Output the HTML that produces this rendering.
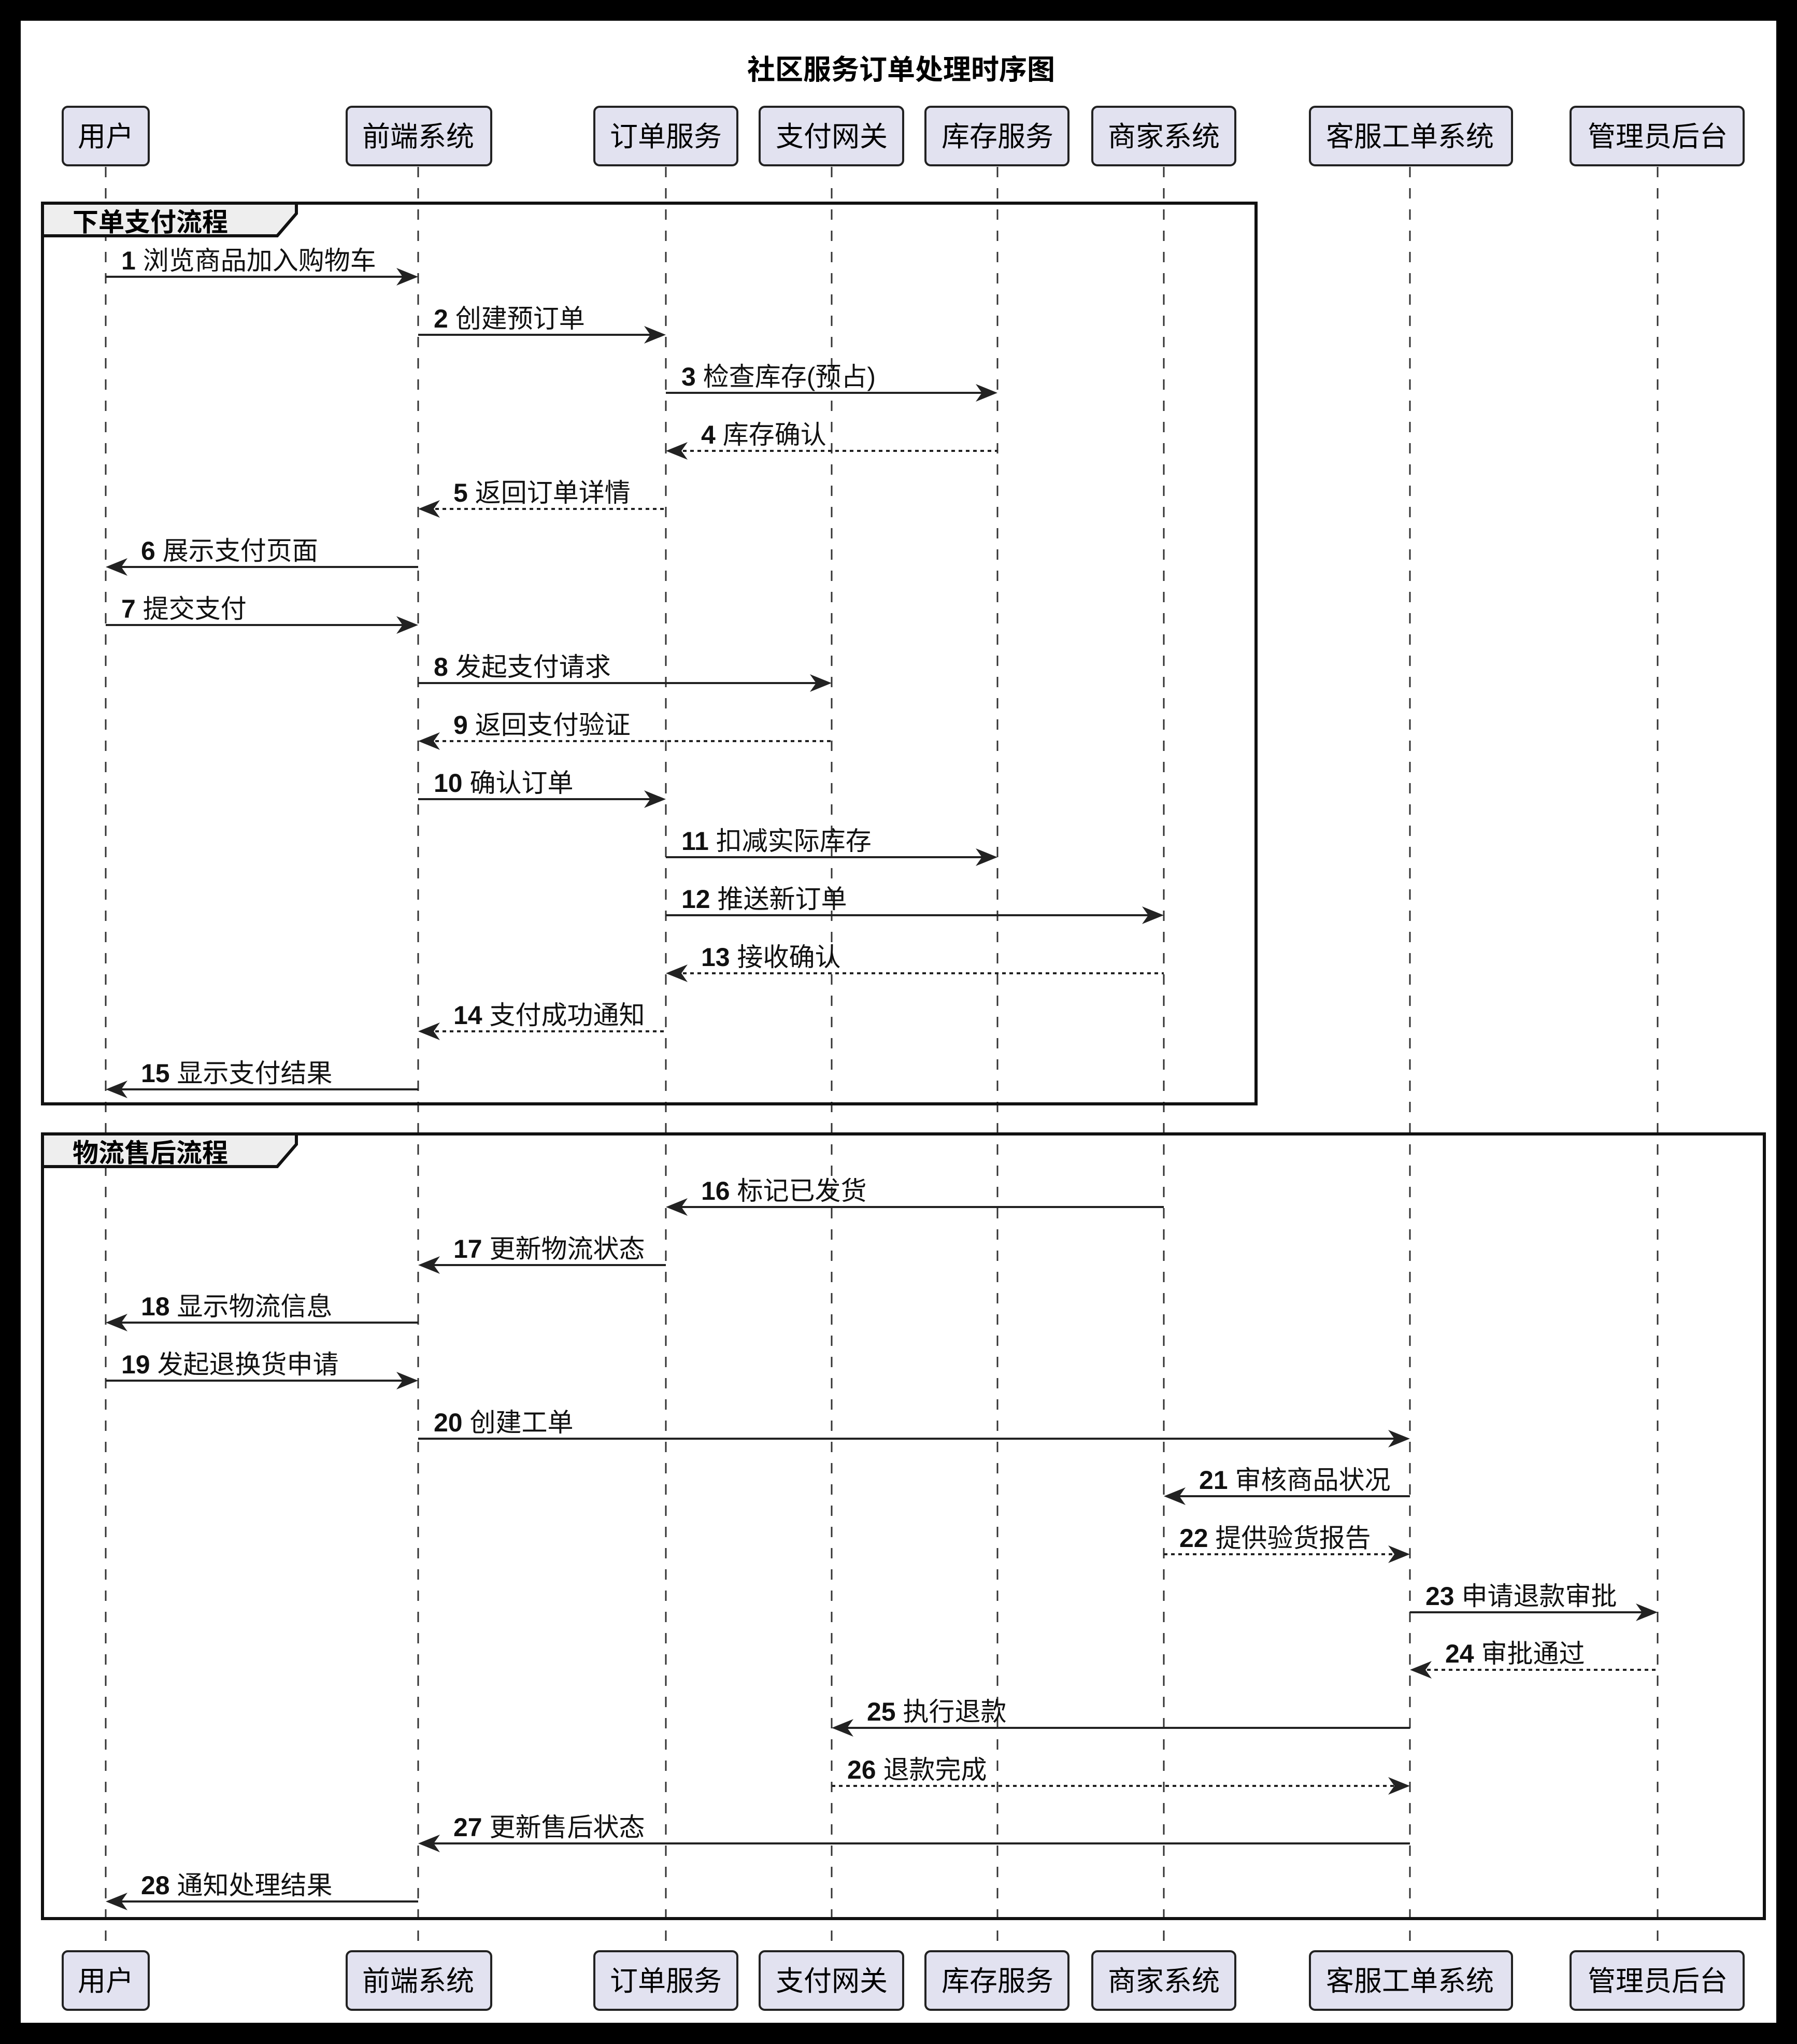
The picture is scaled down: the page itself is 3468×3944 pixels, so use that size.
<!DOCTYPE html>
<html><head><meta charset="utf-8"><style>
html,body{margin:0;padding:0;background:#000;}
svg{display:block;}
text{font-family:"Liberation Sans","Noto Sans CJK SC",sans-serif;}
</style></head><body>
<svg width="3468" height="3944" viewBox="0 0 3468 3944" xmlns="http://www.w3.org/2000/svg">
<rect x="0" y="0" width="3468" height="3944" fill="#000"/>
<rect x="40" y="40" width="3388" height="3863" fill="#fff"/>
<text x="1739" y="153" font-size="54" font-weight="bold" text-anchor="middle" fill="#000">社区服务订单处理时序图</text>
<g stroke="#333" stroke-width="3" stroke-dasharray="20,21">
<line x1="204" y1="322" x2="204" y2="3765"/>
<line x1="807" y1="322" x2="807" y2="3765"/>
<line x1="1285" y1="322" x2="1285" y2="3765"/>
<line x1="1605" y1="322" x2="1605" y2="3765"/>
<line x1="1925" y1="322" x2="1925" y2="3765"/>
<line x1="2246" y1="322" x2="2246" y2="3765"/>
<line x1="2721" y1="322" x2="2721" y2="3765"/>
<line x1="3199" y1="322" x2="3199" y2="3765"/>
</g>
<g fill="#e2e2f0" stroke="#222" stroke-width="4">
<rect x="121" y="206" width="166" height="113" rx="10"/>
<rect x="669" y="206" width="279" height="113" rx="10"/>
<rect x="1147" y="206" width="276" height="113" rx="10"/>
<rect x="1466" y="206" width="277" height="113" rx="10"/>
<rect x="1786" y="206" width="276" height="113" rx="10"/>
<rect x="2108" y="206" width="276" height="113" rx="10"/>
<rect x="2528" y="206" width="390" height="113" rx="10"/>
<rect x="3031" y="206" width="334" height="113" rx="10"/>
<rect x="121" y="3765" width="166" height="113" rx="10"/>
<rect x="669" y="3765" width="279" height="113" rx="10"/>
<rect x="1147" y="3765" width="276" height="113" rx="10"/>
<rect x="1466" y="3765" width="277" height="113" rx="10"/>
<rect x="1786" y="3765" width="276" height="113" rx="10"/>
<rect x="2108" y="3765" width="276" height="113" rx="10"/>
<rect x="2528" y="3765" width="390" height="113" rx="10"/>
<rect x="3031" y="3765" width="334" height="113" rx="10"/>
</g>
<g font-size="54" text-anchor="middle" fill="#000">
<text x="204" y="282">用户</text><text x="807" y="282">前端系统</text><text x="1285" y="282">订单服务</text><text x="1605" y="282">支付网关</text><text x="1925" y="282">库存服务</text><text x="2246" y="282">商家系统</text><text x="2721" y="282">客服工单系统</text><text x="3199" y="282">管理员后台</text>
<text x="204" y="3841">用户</text><text x="807" y="3841">前端系统</text><text x="1285" y="3841">订单服务</text><text x="1605" y="3841">支付网关</text><text x="1925" y="3841">库存服务</text><text x="2246" y="3841">商家系统</text><text x="2721" y="3841">客服工单系统</text><text x="3199" y="3841">管理员后台</text>
</g>
<!-- frames -->
<rect x="82" y="392" width="2342" height="1738" fill="none" stroke="#111" stroke-width="6"/>
<polygon points="82,392 572,392 572,412 535,455 82,455" fill="#eeeeee" stroke="#111" stroke-width="6"/>
<text x="140" y="446" font-size="50" font-weight="bold">下单支付流程</text>
<rect x="82" y="2188" width="3323" height="1514" fill="none" stroke="#111" stroke-width="6"/>
<polygon points="82,2188 572,2188 572,2208 535,2251 82,2251" fill="#eeeeee" stroke="#111" stroke-width="6"/>
<text x="140" y="2242" font-size="50" font-weight="bold">物流售后流程</text>
<g id="msgs" font-size="50" fill="#111">
<!-- generated messages -->
<line x1="204" y1="534" x2="802" y2="534" stroke="#222" stroke-width="4"/><polygon points="807,534 765,517 777,534 765,551" fill="#222"/><text x="234" y="520"><tspan font-weight="bold">1</tspan> 浏览商品加入购物车</text>
<line x1="807" y1="646" x2="1280" y2="646" stroke="#222" stroke-width="4"/><polygon points="1285,646 1243,629 1255,646 1243,663" fill="#222"/><text x="837" y="632"><tspan font-weight="bold">2</tspan> 创建预订单</text>
<line x1="1285" y1="758" x2="1920" y2="758" stroke="#222" stroke-width="4"/><polygon points="1925,758 1883,741 1895,758 1883,775" fill="#222"/><text x="1315" y="744"><tspan font-weight="bold">3</tspan> 检查库存(预占)</text>
<line x1="1290" y1="870" x2="1925" y2="870" stroke="#222" stroke-width="4" stroke-dasharray="7,7"/><polygon points="1285,870 1327,853 1315,870 1327,887" fill="#222"/><text x="1353" y="856"><tspan font-weight="bold">4</tspan> 库存确认</text>
<line x1="812" y1="982" x2="1285" y2="982" stroke="#222" stroke-width="4" stroke-dasharray="7,7"/><polygon points="807,982 849,965 837,982 849,999" fill="#222"/><text x="875" y="968"><tspan font-weight="bold">5</tspan> 返回订单详情</text>
<line x1="209" y1="1094" x2="807" y2="1094" stroke="#222" stroke-width="4"/><polygon points="204,1094 246,1077 234,1094 246,1111" fill="#222"/><text x="272" y="1080"><tspan font-weight="bold">6</tspan> 展示支付页面</text>
<line x1="204" y1="1206" x2="802" y2="1206" stroke="#222" stroke-width="4"/><polygon points="807,1206 765,1189 777,1206 765,1223" fill="#222"/><text x="234" y="1192"><tspan font-weight="bold">7</tspan> 提交支付</text>
<line x1="807" y1="1318" x2="1600" y2="1318" stroke="#222" stroke-width="4"/><polygon points="1605,1318 1563,1301 1575,1318 1563,1335" fill="#222"/><text x="837" y="1304"><tspan font-weight="bold">8</tspan> 发起支付请求</text>
<line x1="812" y1="1430" x2="1605" y2="1430" stroke="#222" stroke-width="4" stroke-dasharray="7,7"/><polygon points="807,1430 849,1413 837,1430 849,1447" fill="#222"/><text x="875" y="1416"><tspan font-weight="bold">9</tspan> 返回支付验证</text>
<line x1="807" y1="1542" x2="1280" y2="1542" stroke="#222" stroke-width="4"/><polygon points="1285,1542 1243,1525 1255,1542 1243,1559" fill="#222"/><text x="837" y="1528"><tspan font-weight="bold">10</tspan> 确认订单</text>
<line x1="1285" y1="1654" x2="1920" y2="1654" stroke="#222" stroke-width="4"/><polygon points="1925,1654 1883,1637 1895,1654 1883,1671" fill="#222"/><text x="1315" y="1640"><tspan font-weight="bold">11</tspan> 扣减实际库存</text>
<line x1="1285" y1="1766" x2="2241" y2="1766" stroke="#222" stroke-width="4"/><polygon points="2246,1766 2204,1749 2216,1766 2204,1783" fill="#222"/><text x="1315" y="1752"><tspan font-weight="bold">12</tspan> 推送新订单</text>
<line x1="1290" y1="1878" x2="2246" y2="1878" stroke="#222" stroke-width="4" stroke-dasharray="7,7"/><polygon points="1285,1878 1327,1861 1315,1878 1327,1895" fill="#222"/><text x="1353" y="1864"><tspan font-weight="bold">13</tspan> 接收确认</text>
<line x1="812" y1="1990" x2="1285" y2="1990" stroke="#222" stroke-width="4" stroke-dasharray="7,7"/><polygon points="807,1990 849,1973 837,1990 849,2007" fill="#222"/><text x="875" y="1976"><tspan font-weight="bold">14</tspan> 支付成功通知</text>
<line x1="209" y1="2102" x2="807" y2="2102" stroke="#222" stroke-width="4"/><polygon points="204,2102 246,2085 234,2102 246,2119" fill="#222"/><text x="272" y="2088"><tspan font-weight="bold">15</tspan> 显示支付结果</text>
<line x1="1290" y1="2329" x2="2246" y2="2329" stroke="#222" stroke-width="4"/><polygon points="1285,2329 1327,2312 1315,2329 1327,2346" fill="#222"/><text x="1353" y="2315"><tspan font-weight="bold">16</tspan> 标记已发货</text>
<line x1="812" y1="2441" x2="1285" y2="2441" stroke="#222" stroke-width="4"/><polygon points="807,2441 849,2424 837,2441 849,2458" fill="#222"/><text x="875" y="2427"><tspan font-weight="bold">17</tspan> 更新物流状态</text>
<line x1="209" y1="2552" x2="807" y2="2552" stroke="#222" stroke-width="4"/><polygon points="204,2552 246,2535 234,2552 246,2569" fill="#222"/><text x="272" y="2538"><tspan font-weight="bold">18</tspan> 显示物流信息</text>
<line x1="204" y1="2664" x2="802" y2="2664" stroke="#222" stroke-width="4"/><polygon points="807,2664 765,2647 777,2664 765,2681" fill="#222"/><text x="234" y="2650"><tspan font-weight="bold">19</tspan> 发起退换货申请</text>
<line x1="807" y1="2776" x2="2716" y2="2776" stroke="#222" stroke-width="4"/><polygon points="2721,2776 2679,2759 2691,2776 2679,2793" fill="#222"/><text x="837" y="2762"><tspan font-weight="bold">20</tspan> 创建工单</text>
<line x1="2251" y1="2887" x2="2721" y2="2887" stroke="#222" stroke-width="4"/><polygon points="2246,2887 2288,2870 2276,2887 2288,2904" fill="#222"/><text x="2314" y="2873"><tspan font-weight="bold">21</tspan> 审核商品状况</text>
<line x1="2246" y1="2999" x2="2716" y2="2999" stroke="#222" stroke-width="4" stroke-dasharray="7,7"/><polygon points="2721,2999 2679,2982 2691,2999 2679,3016" fill="#222"/><text x="2276" y="2985"><tspan font-weight="bold">22</tspan> 提供验货报告</text>
<line x1="2721" y1="3111" x2="3194" y2="3111" stroke="#222" stroke-width="4"/><polygon points="3199,3111 3157,3094 3169,3111 3157,3128" fill="#222"/><text x="2751" y="3097"><tspan font-weight="bold">23</tspan> 申请退款审批</text>
<line x1="2726" y1="3222" x2="3199" y2="3222" stroke="#222" stroke-width="4" stroke-dasharray="7,7"/><polygon points="2721,3222 2763,3205 2751,3222 2763,3239" fill="#222"/><text x="2789" y="3208"><tspan font-weight="bold">24</tspan> 审批通过</text>
<line x1="1610" y1="3334" x2="2721" y2="3334" stroke="#222" stroke-width="4"/><polygon points="1605,3334 1647,3317 1635,3334 1647,3351" fill="#222"/><text x="1673" y="3320"><tspan font-weight="bold">25</tspan> 执行退款</text>
<line x1="1605" y1="3446" x2="2716" y2="3446" stroke="#222" stroke-width="4" stroke-dasharray="7,7"/><polygon points="2721,3446 2679,3429 2691,3446 2679,3463" fill="#222"/><text x="1635" y="3432"><tspan font-weight="bold">26</tspan> 退款完成</text>
<line x1="812" y1="3557" x2="2721" y2="3557" stroke="#222" stroke-width="4"/><polygon points="807,3557 849,3540 837,3557 849,3574" fill="#222"/><text x="875" y="3543"><tspan font-weight="bold">27</tspan> 更新售后状态</text>
<line x1="209" y1="3669" x2="807" y2="3669" stroke="#222" stroke-width="4"/><polygon points="204,3669 246,3652 234,3669 246,3686" fill="#222"/><text x="272" y="3655"><tspan font-weight="bold">28</tspan> 通知处理结果</text>
</g>
</svg>
</body></html>
